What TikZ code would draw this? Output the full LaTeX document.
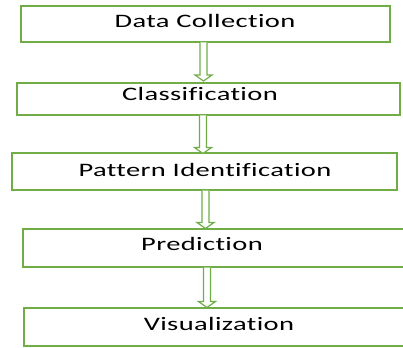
\documentclass[tikz,border=0pt]{standalone}
\usepackage{fontspec}
\setmainfont{Carlito}[LetterSpace=2, FakeStretch=1.5, Ligatures={NoCommon,NoRare,NoContextual}]
\usetikzlibrary{calc}
\definecolor{grn}{RGB}{112,173,71}
\tikzset{
  box/.style={draw=grn, line width=1.4pt, fill=white},
  lbl/.style={inner sep=0pt, font=\fontsize{19}{22}\selectfont, text=black},
  arr/.style={draw=grn, line width=1.2pt, fill=white, line join=miter}
}
\newcommand{\blockarr}[2]{%
  \draw[arr] ($(#1)+(-3.5,0)$) -- ($(#2)+(-3.5,-6)$) -- ($(#2)+(-8.5,-6)$) -- (#2) -- ($(#2)+(8.5,-6)$) -- ($(#2)+(3.5,-6)$) -- ($(#1)+(3.5,0)$);}
\begin{document}
\begin{tikzpicture}[x=1pt,y=-1pt]
\useasboundingbox (0,0) rectangle (403,347);
\draw[box] (21,6) rectangle (390,42);
\draw[box] (17,83) rectangle (400,115);
\draw[box] (12,153) rectangle (397,190);
\draw[box] (23,229) rectangle (410,267);
\draw[box] (24,308) rectangle (410,346);
\node[lbl] (t1) at (205,20.5) {Data Collection};
\node[lbl] (t2) at (200,94) {Classification};
\node[lbl] (t3) at (205,169.5) {Pattern Identification};
\node[lbl] (t4) at (202,244) {Prediction};
\node[lbl] (t5) at (219,323.5) {Visualization};
\coordinate (a1s) at (203.5,42.5); \coordinate (a1e) at (203.5,81);
\coordinate (a2s) at (203,115.5); \coordinate (a2e) at (203,153.5);
\coordinate (a3s) at (205.5,190.5); \coordinate (a3e) at (205.5,228.5);
\coordinate (a4s) at (207,267.5); \coordinate (a4e) at (207,307.5);
\blockarr{a1s}{a1e}
\blockarr{a2s}{a2e}
\blockarr{a3s}{a3e}
\blockarr{a4s}{a4e}
\end{tikzpicture}
\end{document}
